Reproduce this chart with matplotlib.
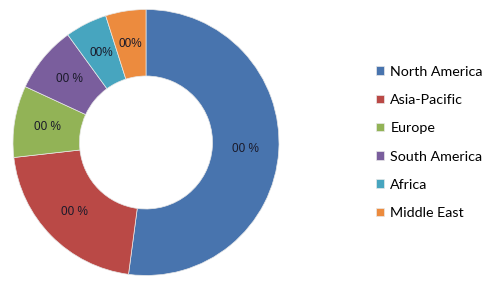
import numpy as np
import matplotlib
matplotlib.use("Agg")
import matplotlib.pyplot as plt

regions = ["North America", "Asia-Pacific", "Europe", "South America", "Africa", "Middle East"]
shares = [52.1, 21.1, 8.7, 8.1, 5.1, 4.9]
pct_labels = ["00 %", "00 %", "00 %", "00 %", "00%", "00%"]
colors = ["#4874AE", "#BA4946", "#92B356", "#7A5E9D", "#47A5BF", "#EC8B3E"]

fig = plt.figure(figsize=(5.0, 2.83), dpi=100)
fig.patch.set_facecolor("white")
ax = fig.add_axes([0.026, 0.0265, 0.532, 0.94])

wedges, _ = ax.pie(shares, colors=colors, startangle=90, counterclock=False,
                   radius=1.0, wedgeprops=dict(width=0.5, edgecolor="#e8e8e8", linewidth=0.5))
ax.set_xlim(-1.0, 1.0)
ax.set_ylim(-1.0, 1.0)

for w, lab in zip(wedges, pct_labels):
    ang = np.deg2rad((w.theta1 + w.theta2) / 2)
    r = 0.75
    ax.text(r * np.cos(ang), r * np.sin(ang), lab, ha="center", va="center",
            fontsize=8.5, color="#1a1a2a", family="Liberation Sans")

fig.legend(wedges, regions, loc="center left", bbox_to_anchor=(0.752, 0.497),
           frameon=False, handlelength=0.55, handleheight=0.55,
           handletextpad=0.45, labelspacing=1.14, borderpad=0, borderaxespad=0,
           prop={"family": "Lato", "size": 10.3})

fig.savefig("out.png", dpi=100, facecolor="white")
